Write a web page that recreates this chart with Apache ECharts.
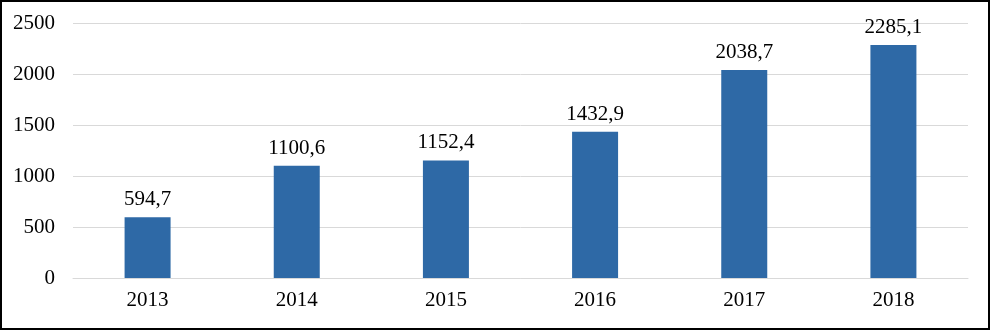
<!DOCTYPE html>
<html>
<head>
<meta charset="utf-8">
<script src="https://cdn.jsdelivr.net/npm/echarts@6/dist/echarts.min.js"></script>
<style>
html,body{margin:0;padding:0;background:#fff;}
#chart{position:absolute;left:0;top:0;width:992px;height:331px;}
#frame{position:absolute;left:0;top:0;width:990px;height:330px;box-sizing:border-box;border:2px solid #000;pointer-events:none;}
</style>
</head>
<body>
<div id="chart"></div>
<div id="frame"></div>
<script>
var categories = ['2013', '2014', '2015', '2016', '2017', '2018'];
var values = [594.7, 1100.6, 1152.4, 1432.9, 2038.7, 2285.1];
var yTicks = [0, 500, 1000, 1500, 2000, 2500];

var font = '"Liberation Serif", "Times New Roman", serif';
var chart = echarts.init(document.getElementById('chart'));
chart.setOption({
  animation: false,
  grid: {left: 73, right: 24, top: 23, bottom: 53, containLabel: false},
  xAxis: {
    type: 'category',
    data: categories,
    axisLine: {show: true, lineStyle: {color: '#D9D9D9', width: 1}},
    axisTick: {show: false},
    axisLabel: {color: '#000', fontFamily: font, fontSize: 21, margin: 12}
  },
  yAxis: {
    type: 'value',
    min: yTicks[0],
    max: yTicks[yTicks.length - 1],
    interval: 500,
    axisLine: {show: false},
    axisTick: {show: false},
    splitLine: {lineStyle: {color: '#D9D9D9', width: 1}},
    axisLabel: {color: '#000', fontFamily: font, fontSize: 21, margin: 18,
      formatter: function (v) { return String(v); }}
  },
  series: [{
    type: 'bar',
    data: values,
    barWidth: 46,
    itemStyle: {color: '#2E69A6'},
    label: {
      show: true,
      position: 'top',
      distance: 7,
      color: '#000',
      fontFamily: font,
      fontSize: 21,
      formatter: function (p) { return p.value.toFixed(1).replace('.', ','); }
    }
  }]
});
</script>
</body>
</html>
